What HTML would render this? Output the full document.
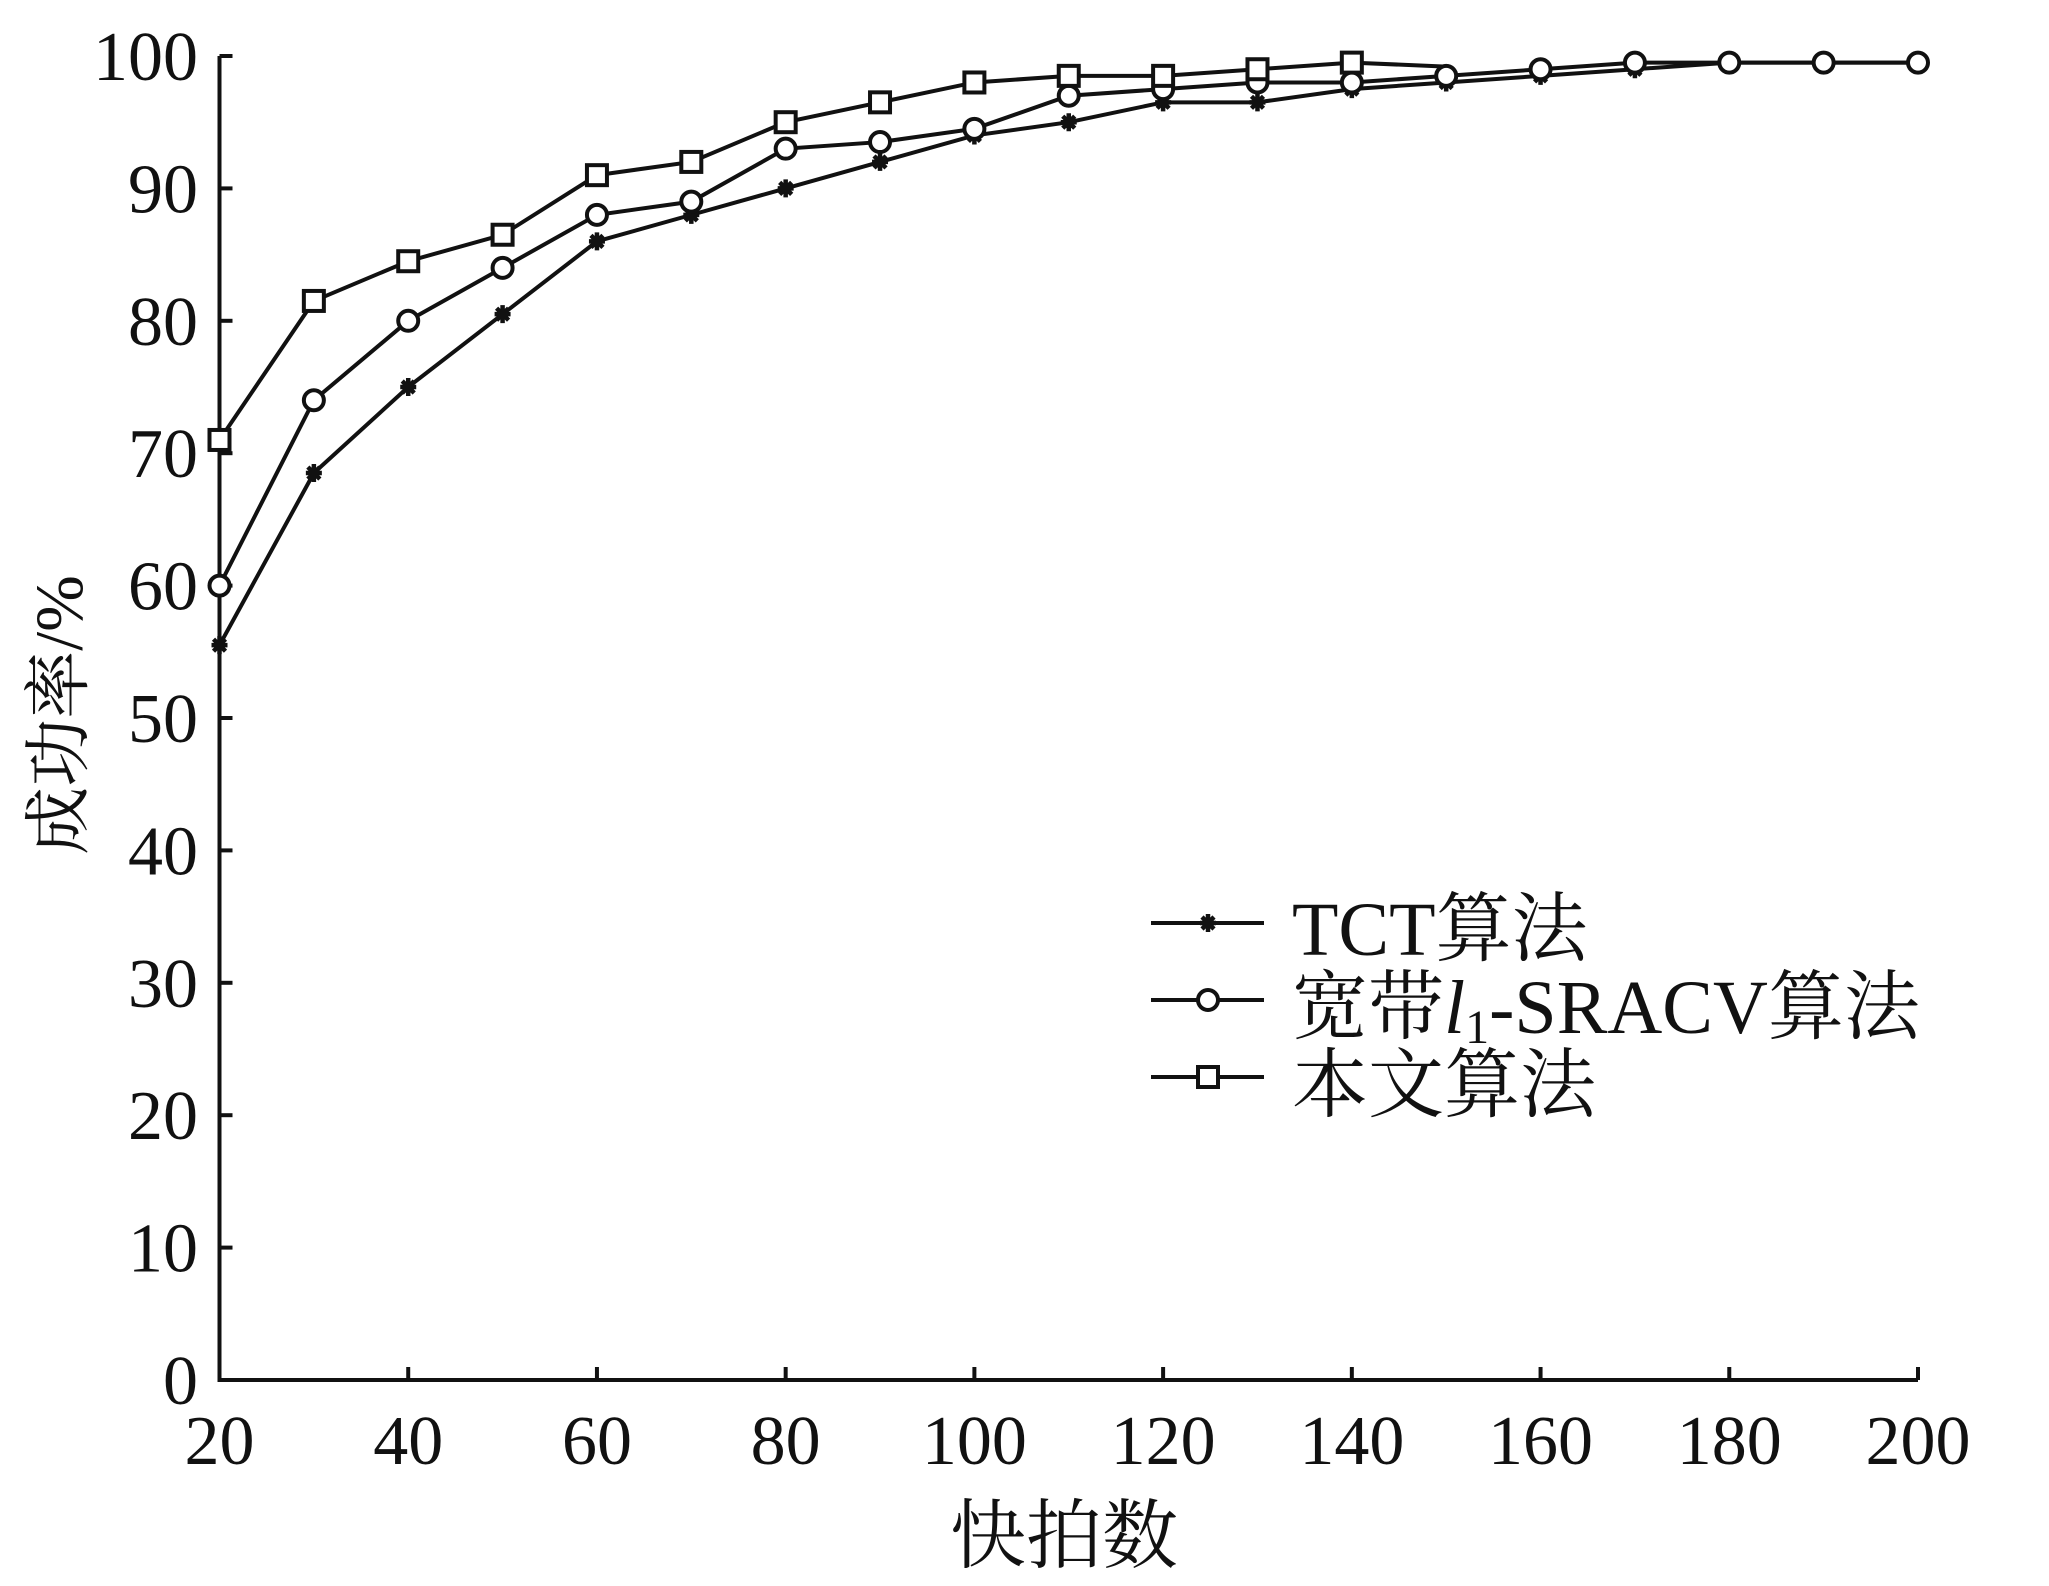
<!DOCTYPE html>
<html><head><meta charset="utf-8"><style>
html,body{margin:0;padding:0;background:#fff;}
svg{display:block;}
text{font-family:"Liberation Serif","Noto Serif CJK SC",serif;fill:#111;}
</style></head><body>
<svg id="s" width="2049" height="1586" viewBox="0 0 2049 1586" xmlns="http://www.w3.org/2000/svg">
<g id="g" stroke="#111" stroke-width="4" fill="none"></g>
<g id="t" font-size="70"></g>
<text x="1064" y="1562" font-size="76" text-anchor="middle" font-family="Noto Sans CJK SC, sans-serif">快拍数</text>
<text transform="translate(82,715) rotate(-90)" font-size="68" text-anchor="middle" font-family="Liberation Serif, Noto Sans CJK SC, serif">成功率/%</text>
<text x="1292" y="955" font-size="76">TCT算法</text>
<text x="1292" y="1033" font-size="76">宽带<tspan font-style="italic">l</tspan><tspan font-size="48" dy="10">1</tspan><tspan dy="-10">-SRACV算法</tspan></text>
<text x="1292" y="1111" font-size="76">本文算法</text>
</svg>
<script>
var X0=219.5,X1=1918,Y0=1380,Y1=56;
function px(v){return X0+(v-20)/180*(X1-X0);}
function py(v){return Y0+(v/100)*(Y1-Y0);}
var g=document.getElementById('g'),t=document.getElementById('t'),ns='http://www.w3.org/2000/svg';
function el(tag,a,p){var e=document.createElementNS(ns,tag);for(var k in a)e.setAttribute(k,a[k]);(p||g).appendChild(e);return e;}
el('polyline',{points:px(20)+','+Y1+' '+px(20)+','+Y0+' '+X1+','+Y0});
for(var v=0;v<=100;v+=10){el('line',{x1:X0,y1:py(v),x2:X0+13,y2:py(v)});var e=el('text',{x:198,y:py(v)+24,'text-anchor':'end'},t);e.textContent=v;}
for(var v=20;v<=200;v+=20){el('line',{x1:px(v),y1:Y0,x2:px(v),y2:Y0-13});var e=el('text',{x:px(v),y:1464,'text-anchor':'middle'},t);e.textContent=v;}
var xs=[20,30,40,50,60,70,80,90,100,110,120,130,140,150,160,170,180,190,200];
var tct=[55.5,68.5,75,80.5,86,88,90,92,94,95,96.5,96.5,97.5,98,98.5,99,99.5,99.5,99.5];
var cir=[60,74,80,84,88,89,93,93.5,94.5,97,97.5,98,98,98.5,99,99.5,99.5,99.5,99.5];
var sq=[71,81.5,84.5,86.5,91,92,95,96.5,98,98.5,98.5,99,99.5,99.2];
function line(d){var p=[];for(var i=0;i<d.length;i++)p.push(px(xs[i])+','+py(d[i]));el('polyline',{points:p.join(' ')});}
line(tct);line(cir);line(sq);
function star(x,y){el('path',{d:'M'+(x-8)+','+y+'h16M'+x+','+(y-9)+'v18M'+(x-6)+','+(y-6)+'l12,12M'+(x+6)+','+(y-6)+'l-12,12','stroke-width':'4.5'});}
function circ(x,y){el('circle',{cx:x,cy:y,r:10,fill:'#fff'});}
function sqr(x,y){el('rect',{x:x-10,y:y-10,width:20,height:20,fill:'#fff'});}
for(var i=0;i<tct.length;i++)star(px(xs[i]),py(tct[i]));
for(var i=0;i<cir.length;i++)circ(px(xs[i]),py(cir[i]));
for(var i=0;i<sq.length-1;i++)sqr(px(xs[i]),py(sq[i]));
var ly=[923,1000,1077];
for(var i=0;i<3;i++)el('line',{x1:1151,y1:ly[i],x2:1264,y2:ly[i]});
star(1208,ly[0]);circ(1208,ly[1]);sqr(1208,ly[2]);
</script>
</body></html>
